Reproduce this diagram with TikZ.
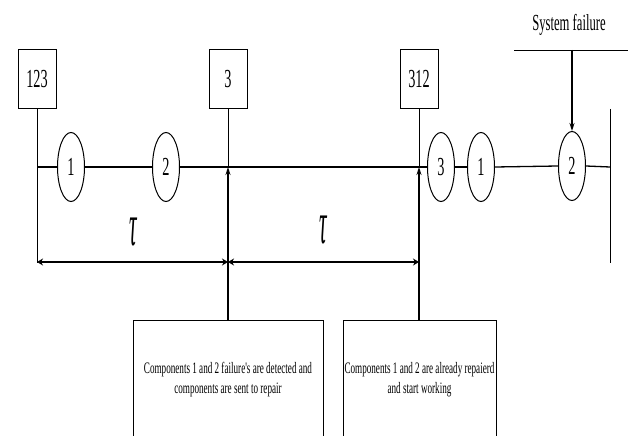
\documentclass[tikz,border=0pt]{standalone}
\usepackage{fontspec}
\setmainfont{Liberation Serif}
\newfontfamily\cond[FakeStretch=0.55]{Liberation Serif}
\newfontfamily\condt[FakeStretch=0.57]{Liberation Serif}
\usetikzlibrary{shapes.geometric,arrows.meta}
\begin{document}
\begin{tikzpicture}[x=1pt,y=-1pt,
  lbl/.style={draw,line width=1pt,minimum width=38pt,minimum height=59pt,inner sep=0pt,
    font=\fontsize{26}{26}\cond\selectfont},
  comp/.style={draw,ellipse,line width=1pt,minimum width=27pt,minimum height=69pt,inner sep=0pt,
    font=\fontsize{26}{26}\cond\selectfont},
  note/.style={draw,line width=1pt,minimum height=120pt,inner sep=0pt,align=center,
    font=\fontsize{16}{20}\condt\selectfont},
  mainln/.style={line width=1.3pt},
  thin/.style={line width=0.9pt},
  dbl/.style={line width=2.6pt,{Stealth[length=6pt,width=7pt]}-{Stealth[length=6pt,width=7pt]}},
  uparr/.style={line width=1.2pt,-{Stealth[length=8pt,width=5pt]}},
  tau/.style={inner sep=0pt}
]
\useasboundingbox (0,0) rectangle (633,436);
\clip (0,0) rectangle (633,436);

% label boxes
\node[lbl] (b123) at (37,79.5) {\raisebox{-4pt}{123}};
\node[lbl] (b3) at (228,79.5) {\raisebox{-4pt}{3}};
\node[lbl] (b312) at (419,79.5) {\raisebox{-4pt}{312}};

% components
\node[comp] (c1) at (71,167) {\raisebox{-3pt}{1}};
\node[comp] (c2) at (166,167) {\raisebox{-3pt}{2}};
\node[comp] (c3) at (441,167) {\raisebox{-3pt}{3}};
\node[comp] (c4) at (481,167) {\raisebox{-3pt}{1}};
\node[comp] (c5) at (572,166) {\raisebox{-3pt}{2}};

% coordinates
\coordinate (p0) at (37,167);
\coordinate (pL) at (37,263);
\coordinate (m1) at (228,167);
\coordinate (m2) at (419,167);
\coordinate (a0) at (37,262);
\coordinate (a1) at (228,262);
\coordinate (a2) at (419,262);
\coordinate (rt) at (610,109);
\coordinate (rm) at (610,167);
\coordinate (rb) at (610,263);
\coordinate (sfa) at (514,50);
\coordinate (sfb) at (628,50);
\coordinate (sfm) at (572,50);

% notes
\node[note,minimum width=190pt] (nA) at (228,380)
  {Components 1 and 2 failure's are detected and\\components are sent to repair};
\node[note,minimum width=153pt] (nB) at (419.5,380)
  {Components 1 and 2 are already repaierd\\and start working};

% system failure
\node[font=\fontsize{23}{23}\cond\selectfont,inner sep=0pt] (sf) at (569,25) {System failure};
\draw[thin] (sfa) -- (sfb);
\draw[uparr] (sfm) -- (c5.north);

% main line
\draw[mainln] (p0) -- (c1.west);
\draw[mainln] (c1.east) -- (c2.west);
\draw[mainln] (c2.east) -- (c3.west);
\draw[mainln] (c3.east) -- (c4.west);
\draw[mainln] (c4.east) -- (c5.west);
\draw[mainln] (c5.east) -- (rm);

% verticals
\draw[thin] (b123.south) -- (pL);
\draw[thin] (b3.south) -- (m1);
\draw[thin] (b312.south) -- (m2);
\draw[thin] (rt) -- (rb);
\draw[uparr] (nA.north) -- (m1);
\draw[uparr] (m2 |- nB.north) -- (m2);

% intervals
\draw[dbl] (a0) -- (a1);
\draw[dbl] (a1) -- (a2);
\node[tau] (t1) at (133,232) {\scalebox{0.7}[2]{\fontsize{30}{30}\selectfont\itshape τ}};
\node[tau] (t2) at (323,230) {\scalebox{0.7}[2]{\fontsize{30}{30}\selectfont\itshape τ}};
\end{tikzpicture}
\end{document}
